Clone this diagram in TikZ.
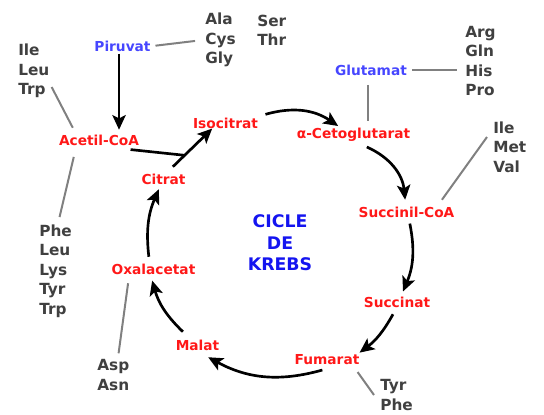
\documentclass[tikz,border=0pt]{standalone}
\usepackage{fontspec}
\setmainfont{DejaVu Sans}
\usepackage{tikz}
\usetikzlibrary{positioning,arrows.meta}

\definecolor{metred}{RGB}{255,24,24}
\definecolor{preblue}{RGB}{70,70,255}
\definecolor{cycblue}{RGB}{20,20,240}
\definecolor{aagray}{RGB}{64,64,64}
\definecolor{linegray}{RGB}{128,128,128}

\begin{document}
\begin{tikzpicture}[
        x=0.75pt, y=-0.75pt,
        every node/.style = {inner sep=1.5pt},
        met/.style = {text=metred, font=\fontsize{10.3}{12}\selectfont\bfseries},
        pre/.style = {text=preblue, font=\fontsize{10.3}{12}\selectfont\bfseries},
        aalist/.style = {text=aagray, align=left, anchor=west,
                         font=\fontsize{11.5}{14.6}\selectfont\bfseries},
        cyc/.style = {line width=2pt, -{Stealth[length=11pt, width=10pt, inset=2.5pt]}},
        aaline/.style = {line width=1.5pt, color=linegray}]
    \useasboundingbox (0,0) rectangle (544,415);

    \node[pre] (piruvat) at (122.5,46) {Piruvat};
    \node[pre] (glut) at (371,70) {Glutamat};

    \node[met] (acetil) at (99,140) {Acetil-CoA};
    \node[met] (citrat) at (163.5,179) {Citrat};
    \node[met] (isocit) at (225.5,123) {Isocitrat};
    \node[met] (aceto) at (353.5,135) {α-Cetoglutarat};
    \node[met] (succoa) at (406.5,212) {Succinil-CoA};
    \node[met] (succ) at (397,302) {Succinat};
    \node[met] (fum) at (327,360) {Fumarat};
    \node[met] (malat) at (197.5,345) {Malat};
    \node[met] (oxal) at (153.5,269) {Oxalacetat};

    \node[text=cycblue, align=center, font=\fontsize{13}{16}\selectfont\bfseries]
        (krebs) at (280,243) {CICLE\\DE\\KREBS};

    \node[aalist] (aaAla) at (203,40) {Ala\\Cys\\Gly};
    \node[aalist] (aaSer) at (255,30.5) {Ser\\Thr};
    \node[aalist] (aaIleL) at (16,71) {Ile\\Leu\\Trp};
    \node[aalist] (aaArg) at (463,61) {Arg\\Gln\\His\\Pro};
    \node[aalist] (aaIleR) at (491,147) {Ile\\Met\\Val};
    \node[aalist] (aaPhe) at (37,271) {Phe\\Leu\\Lys\\Tyr\\Trp};
    \node[aalist] (aaAsp) at (95,375) {Asp\\Asn};
    \node[aalist] (aaTyr) at (378,395) {Tyr\\Phe};

    \draw [cyc] ([xshift=-2.6pt]piruvat.south)
        -- ([xshift=-2.6pt, yshift=2pt]piruvat.south |- acetil.north);
    \draw [cyc] ([xshift=7pt, yshift=3.5pt]citrat.north)
        -- coordinate[pos=0.3] (join) ([xshift=-10pt, yshift=1.5pt]isocit.south);
    \draw [line width=2pt] ([xshift=-8pt, yshift=-1.5pt]acetil.south east) -- (join);

    \draw [cyc] ([xshift=4pt, yshift=6.5pt]isocit.east)
        to[bend left=25] ([xshift=-11.5pt]aceto.north);
    \draw [cyc] ([xshift=10pt, yshift=-9pt]aceto.center)
        to[bend left=30] ([xshift=-1pt, yshift=3.5pt]succoa.north);
    \draw [cyc] ([xshift=2.5pt, yshift=-3pt]succoa.south)
        to[bend left=17] ([xshift=4.5pt, yshift=2.2pt]succ.north);
    \draw [cyc] ([xshift=-3pt, yshift=-3.5pt]succ.south)
        to[bend left=12] ([xshift=-1.5pt]fum.north east);
    \draw [cyc] ([xshift=-3.5pt, yshift=-2pt]fum.south)
        to[bend left=22] ([xshift=-10pt, yshift=-3.5pt]malat.south east);
    \draw [cyc] ([xshift=-11pt, yshift=4.3pt]malat.north)
        to[bend left=15] ([xshift=-1pt, yshift=-3pt]oxal.south);
    \draw [cyc] ([xshift=-3.5pt, yshift=3.5pt]oxal.north)
        to[bend left=15] ([xshift=-3.5pt, yshift=-2pt]citrat.south);

    \draw [aaline, shorten <=2pt, shorten >=6pt] (piruvat.east) -- (aaAla.west);
    \draw [aaline] ([yshift=-12pt]aaIleL.east) -- ([xshift=12pt, yshift=3.5pt]acetil.north west);
    \draw [aaline] ([xshift=12.75pt, yshift=-7pt]acetil.south west) -- ([xshift=3pt, yshift=4pt]aaPhe.north);
    \draw [aaline, shorten <=2.5pt, shorten >=4.5pt] (glut.east) -- (glut.east -| aaArg.west);
    \draw [aaline, shorten <=5.5pt, shorten >=3.6pt]
        ([xshift=-2.5pt]glut.south) -- ([xshift=-2.5pt]glut.south |- aceto.north);
    \draw [aaline] ([xshift=-3pt, yshift=7.5pt]aaIleR.west) -- ([xshift=-11pt, yshift=3.5pt]succoa.north east);
    \draw [aaline] ([xshift=14pt, yshift=-5pt]oxal.south west) -- ([xshift=4pt, yshift=3pt]aaAsp.north);
    \draw [aaline] ([xshift=-3pt, yshift=-3.5pt]fum.south east) -- ([xshift=-3pt]aaTyr.west);
\end{tikzpicture}
\end{document}
